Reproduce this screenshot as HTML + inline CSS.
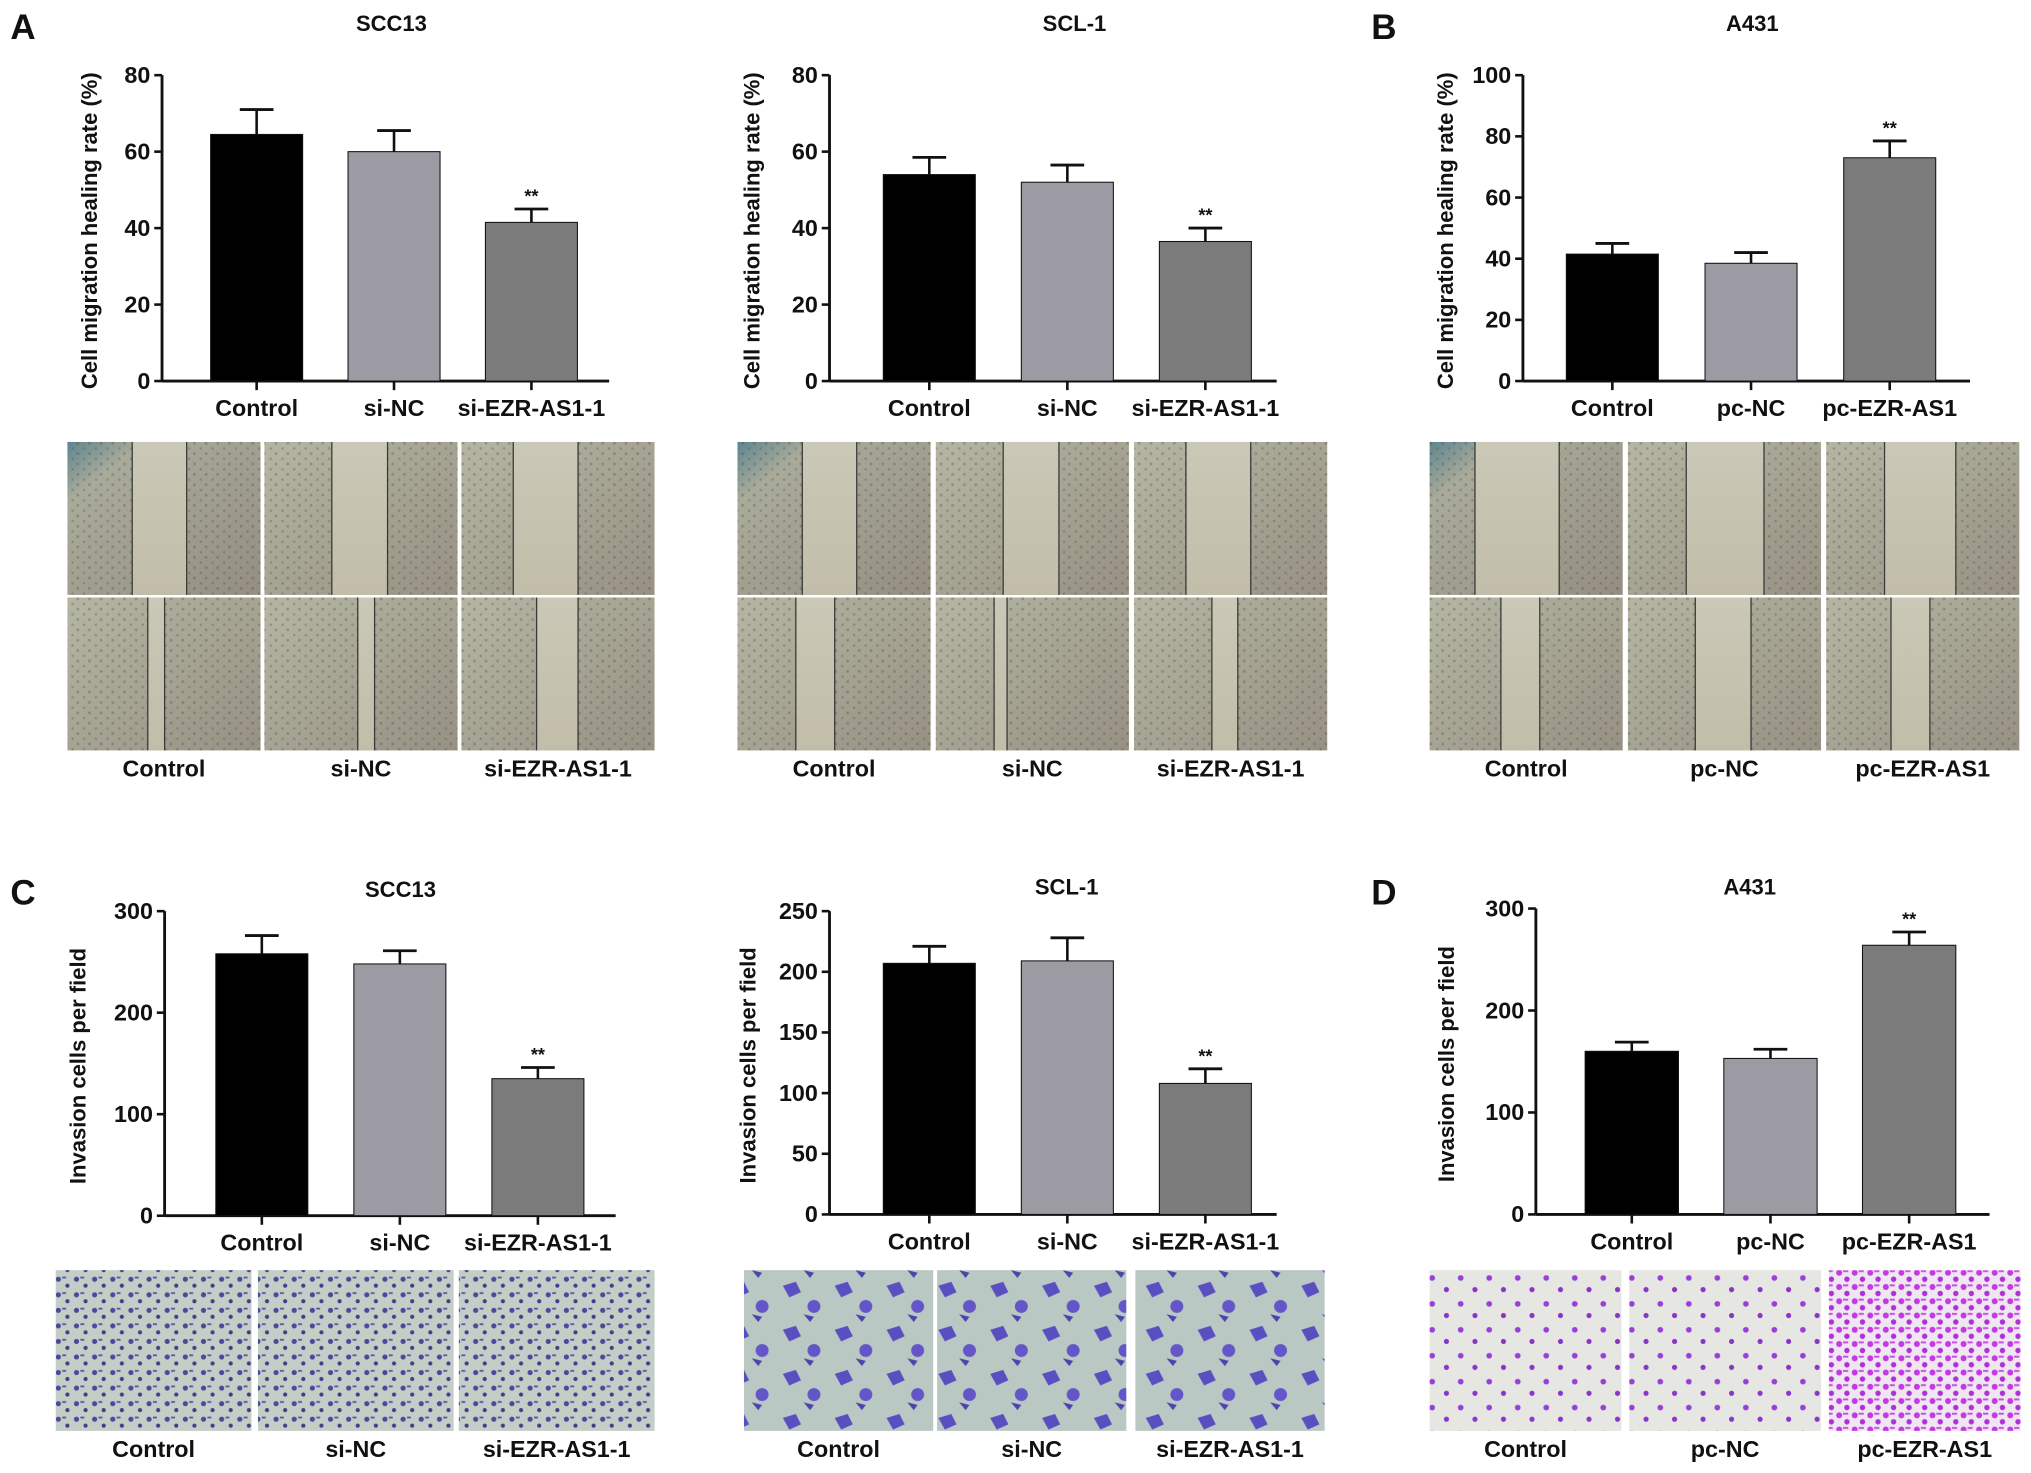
<!DOCTYPE html>
<html><head><meta charset="utf-8"><style>
html,body{margin:0;padding:0;background:#fff;width:2031px;height:1473px;overflow:hidden}
svg{display:block}
text{font-family:"Liberation Sans",Arial,sans-serif;font-weight:bold;fill:#111}
</style></head><body>
<svg id="fig" width="2031" height="1473" viewBox="0 0 1567 1136.5" xmlns="http://www.w3.org/2000/svg">
<defs>
<linearGradient id="wg1" x1="0" y1="0" x2="1" y2="1"><stop offset="0" stop-color="#5f8590"/><stop offset="0.2" stop-color="#a9ab9a"/><stop offset="1" stop-color="#948e80"/></linearGradient>
<linearGradient id="wg2" x1="0" y1="0" x2="1" y2="1"><stop offset="0" stop-color="#b4b6a3"/><stop offset="1" stop-color="#979183"/></linearGradient>
<linearGradient id="gap" x1="0" y1="0" x2="0" y2="1"><stop offset="0" stop-color="#cac8b6"/><stop offset="1" stop-color="#c1bda9"/></linearGradient>
<pattern id="noise" width="9" height="8" patternUnits="userSpaceOnUse"><circle cx="2" cy="2" r="1" fill="#55524a" opacity="0.35"/><circle cx="6" cy="6" r="1.1" fill="#45433c" opacity="0.3"/></pattern>
<pattern id="blue1" width="14" height="12" patternUnits="userSpaceOnUse"><rect width="14" height="12" fill="#c4cdc6"/><circle cx="3" cy="3" r="2" fill="#4a4a9a"/><circle cx="10" cy="8" r="1.6" fill="#3e3e8a"/><rect x="6" y="1" width="3" height="1.4" fill="#5656a8"/></pattern>
<pattern id="blue2" width="40" height="34" patternUnits="userSpaceOnUse"><rect width="40" height="34" fill="#b9c8c3"/><path d="M4 6 l10 -3 l4 8 l-9 4z" fill="#5a4fc0"/><circle cx="28" cy="22" r="5" fill="#6455c8"/><path d="M20 28 l8 2 l-3 4 z" fill="#4d43ad"/></pattern>
<pattern id="purp1" width="22" height="20" patternUnits="userSpaceOnUse"><rect width="22" height="20" fill="#e6e6e2"/><circle cx="5" cy="6" r="2.2" fill="#9a3ed8"/><circle cx="16" cy="15" r="2" fill="#8a35c8"/></pattern>
<pattern id="purp2" width="12" height="11" patternUnits="userSpaceOnUse"><rect width="12" height="11" fill="#f0e6f2"/><circle cx="3" cy="3" r="2.3" fill="#c23ae0"/><circle cx="9" cy="8" r="2.1" fill="#b030d8"/><rect x="6" y="1" width="4" height="1.5" fill="#c84ce6"/></pattern>
</defs>
<g id="root"></g>
</svg>
<script>
// ---- Chart data ----
var migCategoriesSi = ["Control","si-NC","si-EZR-AS1-1"];
var migCategoriesPc = ["Control","pc-NC","pc-EZR-AS1"];
var scc13MigValues = [64.5, 60, 41.5];
var scc13MigErrors = [6.5, 5.5, 3.5];
var scl1MigValues = [54, 52, 36.5];
var scl1MigErrors = [4.5, 4.5, 3.5];
var a431MigValues = [41.5, 38.5, 73];
var a431MigErrors = [3.5, 3.5, 5.5];
var scc13InvValues = [258, 248, 135];
var scc13InvErrors = [18, 13, 11];
var scl1InvValues = [207, 209, 108];
var scl1InvErrors = [14, 19, 12];
var a431InvValues = [160, 153, 264];
var a431InvErrors = [9, 9, 13];
var migTicks80 = [0, 20, 40, 60, 80];
var migTicks100 = [0, 20, 40, 60, 80, 100];
var invTicks300 = [0, 100, 200, 300];
var invTicks250 = [0, 50, 100, 150, 200, 250];
var sigMarks = ["", "", "**"];

var NS = "http://www.w3.org/2000/svg";
var root = document.getElementById("root");
var barColors = ["#000000", "#9c9ba3", "#7b7b7b"];
function mk(tag, attrs, parent) {
  var e = document.createElementNS(NS, tag);
  for (var k in attrs) e.setAttribute(k, attrs[k]);
  (parent || root).appendChild(e);
  return e;
}
function txt(s, x, y, size, anchor, parent, rot) {
  var t = mk("text", {x: x, y: y, "font-size": size, "text-anchor": anchor || "middle"}, parent);
  if (rot) t.setAttribute("transform", "rotate(-90 " + x + " " + y + ")");
  t.textContent = s;
  return t;
}
function chart(opt) {
  var g = mk("g", {});
  
  
  var x0 = opt.ax, yTop = opt.yTop, yBot = opt.yBot, xEnd = opt.xEnd;
  var max = opt.ticks[opt.ticks.length - 1];
  function yS(v) { return yBot - (v / max) * (yBot - yTop); }
  var t = txt(opt.title, opt.titleX, opt.titleY, 17, "middle", g);
  
  
  var yl = txt(opt.ylabel, opt.ylx, (yTop + yBot) / 2 + 2, 17, "middle", g, true);
  
  
  var ya = mk("line", {x1: x0, y1: yTop, x2: x0, y2: yBot, stroke: "#111", "stroke-width": 2.2}, g);
  
  
  opt.ticks.forEach(function (v) {
    var y = yS(v);
    mk("line", {x1: x0 - 6, y1: y, x2: x0, y2: y, stroke: "#111", "stroke-width": 2}, g);
    var tl = txt(String(v), x0 - 9, y + 6, 18, "end", g);
    
    
  });
  var xa = mk("line", {x1: x0, y1: yBot, x2: xEnd, y2: yBot, stroke: "#111", "stroke-width": 2.2}, g);
  
  
  opt.cats.forEach(function (c, i) {
    var cx = opt.c0 + opt.step * i;
    var bw = opt.bw;
    var v = opt.vals[i], e = opt.errs[i];
    mk("line", {x1: cx, y1: yS(v + e), x2: cx, y2: yS(v), stroke: "#111", "stroke-width": 2}, g);
    mk("line", {x1: cx - 13, y1: yS(v + e), x2: cx + 13, y2: yS(v + e), stroke: "#111", "stroke-width": 2.2}, g);
    var b = mk("rect", {x: cx - bw / 2, y: yS(v), width: bw, height: yBot - yS(v), fill: barColors[i], stroke: "#111", "stroke-width": 0.8}, g);
    
    
    mk("line", {x1: cx, y1: yBot, x2: cx, y2: yBot + 7, stroke: "#111", "stroke-width": 2}, g);
    var xl = txt(c, cx, yBot + 27, 18, "middle", g);
    
    
    if (sigMarks[i]) {
      var s = txt(sigMarks[i], cx, yS(v + e) - 5, 14, "middle", g);
      
      
    }
  });
}
var migY = "Cell migration healing rate (%)", invY = "Invasion cells per field";
chart({name:"scc13-migration-chart", title:"SCC13", titleX:302, titleY:24, ylabel:migY, ylx:75, ax:125, yTop:58, yBot:294, xEnd:470, c0:198, step:106, bw:71, cats:migCategoriesSi, vals:scc13MigValues, errs:scc13MigErrors, ticks:migTicks80});
chart({name:"scl1-migration-chart", title:"SCL-1", titleX:829, titleY:24, ylabel:migY, ylx:586, ax:640, yTop:58, yBot:294, xEnd:985, c0:717, step:106.5, bw:71, cats:migCategoriesSi, vals:scl1MigValues, errs:scl1MigErrors, ticks:migTicks80});
chart({name:"a431-migration-chart", title:"A431", titleX:1352, titleY:24, ylabel:migY, ylx:1121, ax:1175, yTop:58, yBot:294, xEnd:1520, c0:1244, step:107, bw:71, cats:migCategoriesPc, vals:a431MigValues, errs:a431MigErrors, ticks:migTicks100});
chart({name:"scc13-invasion-chart", title:"SCC13", titleX:309, titleY:692, ylabel:invY, ylx:66, ax:127, yTop:703, yBot:938, xEnd:475, c0:202, step:106.5, bw:71, cats:migCategoriesSi, vals:scc13InvValues, errs:scc13InvErrors, ticks:invTicks300});
chart({name:"scl1-invasion-chart", title:"SCL-1", titleX:823, titleY:690, ylabel:invY, ylx:583, ax:640, yTop:703, yBot:937, xEnd:985, c0:717, step:106.5, bw:71, cats:migCategoriesSi, vals:scl1InvValues, errs:scl1InvErrors, ticks:invTicks250});
chart({name:"a431-invasion-chart", title:"A431", titleX:1350, titleY:690, ylabel:invY, ylx:1122, ax:1185, yTop:701, yBot:937, xEnd:1535, c0:1259, step:107, bw:72, cats:migCategoriesPc, vals:a431InvValues, errs:a431InvErrors, ticks:invTicks300});

// panel letters
[["A",8,30],["B",1058,30],["C",8,698],["D",1058,698]].forEach(function(p){
  var l = txt(p[0], p[1], p[2], 27, "start");
  
  
});

// wound-healing micrograph grids
function woundGrid(name, xs, w, labels, gaps) {
  var g = mk("g", {});
  
  
  xs.forEach(function (x, i) {
    [[341, 1], [461, 0]].forEach(function (r, j) {
      var im = mk("rect", {x: x, y: r[0], width: w, height: 118, fill: j === 0 && i === 0 ? "url(#wg1)" : "url(#wg2)"}, g);
      
      
      var gp = gaps[j][i];
      mk("rect", {x: x + gp[0], y: r[0], width: gp[1] - gp[0], height: 118, fill: "url(#gap)"}, g);
      mk("rect", {x: x, y: r[0], width: gp[0], height: 118, fill: "url(#noise)"}, g);
      mk("rect", {x: x + gp[1], y: r[0], width: w - gp[1], height: 118, fill: "url(#noise)"}, g);
      mk("line", {x1: x + gp[0], y1: r[0], x2: x + gp[0], y2: r[0] + 118, stroke: "#3a3a3a", "stroke-width": 1}, g);
      mk("line", {x1: x + gp[1], y1: r[0], x2: x + gp[1], y2: r[0] + 118, stroke: "#3a3a3a", "stroke-width": 1}, g);
    });
    var lb = txt(labels[i], x + w / 2, 599, 18, "middle", g);
    
    
  });
}
woundGrid("scc13-wound-images", [52, 204, 356], 149, migCategoriesSi, [[[50,92],[52,95],[40,90]],[[62,75],[72,85],[58,90]]]);
woundGrid("scl1-wound-images", [569, 722, 875], 149, migCategoriesSi, [[[50,92],[52,95],[40,90]],[[45,75],[45,55],[60,80]]]);
woundGrid("a431-wound-images", [1103, 1256, 1409], 149, migCategoriesPc, [[[35,100],[45,105],[45,100]],[[55,85],[52,95],[50,80]]]);

function invGrid(name, xs, w, fills, labels) {
  var g = mk("g", {});
  
  
  xs.forEach(function (x, i) {
    var im = mk("rect", {x: x, y: 980, width: w, height: 124, fill: fills[i]}, g);
    
    
    var lb = txt(labels[i], x + w / 2, 1124, 18, "middle", g);
    
    
  });
}
invGrid("scc13-invasion-images", [43, 199, 354], 151, ["url(#blue1)","url(#blue1)","url(#blue1)"], migCategoriesSi);
invGrid("scl1-invasion-images", [574, 723, 876], 146, ["url(#blue2)","url(#blue2)","url(#blue2)"], migCategoriesSi);
invGrid("a431-invasion-images", [1103, 1257, 1411], 148, ["url(#purp1)","url(#purp1)","url(#purp2)"], migCategoriesPc);
</script>
</body></html>
